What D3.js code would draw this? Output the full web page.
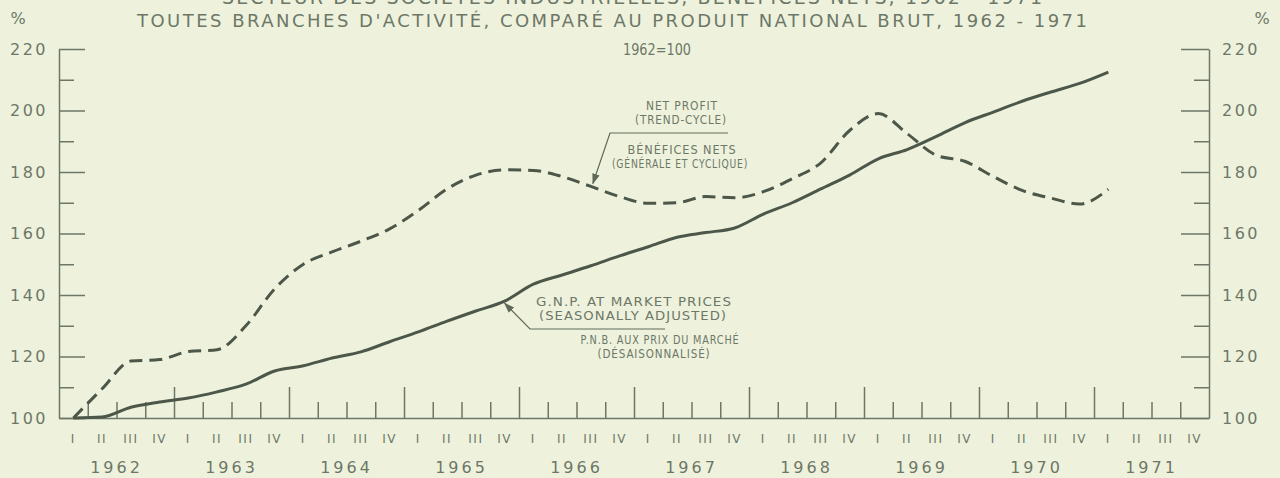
<!DOCTYPE html>
<html>
<head>
<meta charset="utf-8">
<title>Bénéfices nets et P.N.B., 1962-1971</title>
<style>
  html, body { margin:0; padding:0; background:#eef2dc; }
  svg { display:block; background:#eef2dc; }
  text { font-family:"DejaVu Sans", sans-serif; fill:#6d7768; }
  .axis path, .axis line { stroke:#6d7768; stroke-width:1.5; }
  .axis text { font-family:"DejaVu Sans", sans-serif; fill:#6d7768; }
</style>
</head>
<body>
<svg id="chart" width="1280" height="478"></svg>
<script src="https://cdnjs.cloudflare.com/ajax/libs/d3/7.8.5/d3.min.js"></script>
<script>
// quarterly data, 1962 Q1 .. 1971 Q1 (1962 = 100)
var years = [1962, 1963, 1964, 1965, 1966, 1967, 1968, 1969, 1970, 1971];
var quarterNames = ['I', 'II', 'III', 'IV'];
var gnp = [100, 100.3, 103.5, 105.2, 106.5, 108.5, 111, 115.3,
           117, 119.5, 121.5, 124.8, 128, 131.5, 134.8, 138,
           143.5, 146.5, 149.5, 152.7, 155.7, 158.8, 160.3, 161.8,
           166.3, 170, 174.5, 179, 184.3, 187.3, 191.5, 196,
           199.5, 203, 206, 208.8, 212.5];
var profit = [100, 109.5, 118.5, 119, 121.6, 122.2, 130, 142,
              150, 154, 157.5, 161.5, 167.5, 174.5, 179, 180.7,
              180.5, 178.5, 175.3, 172, 169.8, 170, 172, 171.6,
              173.6, 177.8, 183, 193.5, 199, 192.5, 185.5, 183.5,
              178.5, 174, 171.5, 169.6, 174.4];
var yMajor = [100, 120, 140, 160, 180, 200, 220];
var yMinor = [110, 130, 150, 170, 190, 210];

var svg = d3.select('#chart');
var ink = '#4c5749';

var x = d3.scaleLinear().domain([0, 40]).range([59, 1209]);
var y = d3.scaleLinear().domain([100, 220]).range([418, 49]);

// left axis
svg.append('g').attr('class', 'axis').attr('transform', 'translate(59,0)')
  .call(d3.axisLeft(y).tickValues(yMajor).tickSize(-26).tickPadding(11).tickSizeOuter(0))
  .call(g => g.selectAll('text').style('font-size', '16px').style('letter-spacing', '2.5px'));
svg.append('g').attr('class', 'axis').attr('transform', 'translate(59,0)')
  .call(d3.axisLeft(y).tickValues(yMinor).tickSize(-15).tickFormat(''))
  .call(g => g.select('.domain').remove());

// right axis
svg.append('g').attr('class', 'axis').attr('transform', 'translate(1209,0)')
  .call(d3.axisRight(y).tickValues(yMajor).tickSize(-28).tickPadding(13).tickSizeOuter(0))
  .call(g => g.selectAll('text').style('font-size', '16px').style('letter-spacing', '2.5px'));
svg.append('g').attr('class', 'axis').attr('transform', 'translate(1209,0)')
  .call(d3.axisRight(y).tickValues(yMinor).tickSize(-15).tickFormat(''))
  .call(g => g.select('.domain').remove());

// bottom axis: quarter ticks and taller year ticks
svg.append('g').attr('class', 'axis').attr('transform', 'translate(0,418)')
  .call(d3.axisBottom(x).tickValues(d3.range(1, 40).filter(i => i % 4 !== 0))
    .tickSize(-16).tickFormat('').tickSizeOuter(0));
svg.append('g').attr('class', 'axis').attr('transform', 'translate(0,418)')
  .call(d3.axisBottom(x).tickValues(d3.range(4, 40, 4)).tickSize(-31).tickFormat(''))
  .call(g => g.select('.domain').remove());

// quarter and year labels
var quarters = d3.range(40);
svg.append('g').selectAll('text').data(quarters).join('text')
  .attr('x', d => x(d + 0.5)).attr('y', 443)
  .attr('text-anchor', 'middle')
  .style('font-size', '12px').style('letter-spacing', '1.5px')
  .text(d => quarterNames[d % 4]);
svg.append('g').selectAll('text').data(years).join('text')
  .attr('x', (d, i) => x(i * 4 + 2)).attr('y', 473)
  .attr('text-anchor', 'middle')
  .style('font-size', '16px').style('letter-spacing', '3px')
  .text(d => d);

// series
var line = d3.line()
  .x((d, i) => x(i + 0.5))
  .y(d => y(d))
  .curve(d3.curveMonotoneX);

svg.append('path').datum(gnp)
  .attr('d', line).attr('fill', 'none')
  .attr('stroke', ink).attr('stroke-width', 3);
svg.append('path').datum(profit)
  .attr('d', line).attr('fill', 'none')
  .attr('stroke', ink).attr('stroke-width', 3)
  .attr('stroke-dasharray', '13,7');

// titles
svg.append('text').attr('x', 632).attr('y', 4).attr('text-anchor', 'middle')
  .attr('textLength', 820).attr('lengthAdjust', 'spacing')
  .style('font-size', '19px')
  .text('SECTEUR DES SOCIÉTÉS INDUSTRIELLES, BÉNÉFICES NETS, 1962 - 1971');
svg.append('text').attr('x', 612).attr('y', 27).attr('text-anchor', 'middle')
  .attr('textLength', 950).attr('lengthAdjust', 'spacing')
  .style('font-size', '18px')
  .text("TOUTES BRANCHES D'ACTIVITÉ, COMPARÉ AU PRODUIT NATIONAL BRUT, 1962 - 1971");
svg.append('text').attr('x', 18).attr('y', 24).attr('text-anchor', 'middle')
  .style('font-size', '16px').text('%');
svg.append('text').attr('x', 1262).attr('y', 24).attr('text-anchor', 'middle')
  .style('font-size', '16px').text('%');
svg.append('text').attr('x', 657).attr('y', 55).attr('text-anchor', 'middle')
  .attr('textLength', 68).attr('lengthAdjust', 'spacingAndGlyphs')
  .style('font-size', '15px').text('1962=100');

// arrow marker
svg.append('defs').append('marker')
  .attr('id', 'arrow').attr('viewBox', '0 0 10 10')
  .attr('refX', 9).attr('refY', 5)
  .attr('markerWidth', 9).attr('markerHeight', 9)
  .attr('orient', 'auto')
  .append('path').attr('d', 'M0,1.5L10,5L0,8.5Z').attr('fill', '#5e6959');

function label(lines, tip, elbow, ruleEnd) {
  var g = svg.append('g');
  g.append('path')
    .attr('d', 'M' + ruleEnd + ',' + elbow[1] + 'H' + elbow[0] + 'L' + tip[0] + ',' + tip[1])
    .attr('fill', 'none').attr('stroke', '#5e6959').attr('stroke-width', 1.2)
    .attr('marker-end', 'url(#arrow)');
  lines.forEach(function (l) {
    g.append('text').attr('x', l.cx).attr('y', l.y).attr('text-anchor', 'middle')
      .attr('textLength', l.w).attr('lengthAdjust', 'spacingAndGlyphs')
      .style('font-size', (l.fs || 13) + 'px').style('letter-spacing', '1px').text(l.t);
  });
}

// net profit annotation, pointing at 1966 Q3
label([
  { t: 'NET PROFIT', cx: 682, y: 110, w: 72, fs: 12 },
  { t: '(TREND-CYCLE)', cx: 681, y: 124, w: 92, fs: 12 },
  { t: 'BÉNÉFICES NETS', cx: 682, y: 154, w: 109, fs: 12 },
  { t: '(GÉNÉRALE ET CYCLIQUE)', cx: 680, y: 168, w: 136, fs: 12 }
], [x(18.5) + 2, y(profit[18]) - 3], [610, 133], 728);

// GNP annotation, pointing at 1965 Q4
label([
  { t: 'G.N.P. AT MARKET PRICES', cx: 634, y: 306, w: 196 },
  { t: '(SEASONALLY ADJUSTED)', cx: 633, y: 320, w: 188 },
  { t: 'P.N.B. AUX PRIX DU MARCHÉ', cx: 660, y: 344, w: 159, fs: 12 },
  { t: '(DÉSAISONNALISÉ)', cx: 654, y: 358, w: 113, fs: 12 }
], [x(15.5), y(gnp[15]) + 2], [530, 329], 665);
</script>
</body>
</html>
